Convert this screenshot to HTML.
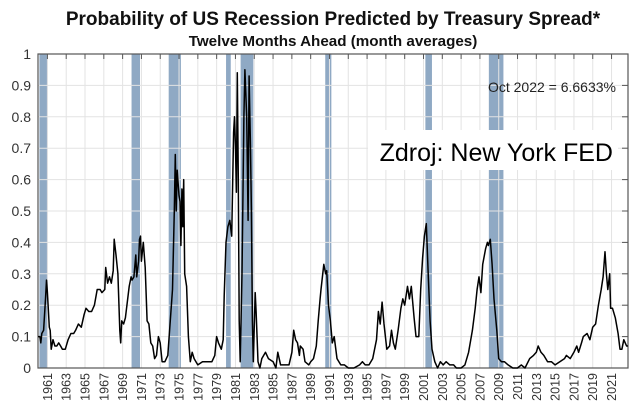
<!DOCTYPE html>
<html><head><meta charset="utf-8"><style>
body{margin:0;background:#fff;width:640px;height:411px;overflow:hidden;font-family:"Liberation Sans",Arial,sans-serif}
</style></head><body>
<svg id="chart" width="640" height="411" xmlns="http://www.w3.org/2000/svg" font-family="Liberation Sans, Arial, sans-serif">
<text x="333" y="25" text-anchor="middle" font-size="19" font-weight="bold" fill="#111">Probability of US Recession Predicted by Treasury Spread*</text>
<text x="333" y="46" text-anchor="middle" font-size="15.2" font-weight="bold" fill="#111">Twelve Months Ahead (month averages)</text>
<g id="bands"></g><g id="grid"></g><g id="axes"></g><g id="series"></g>
<text x="616" y="92" text-anchor="end" font-size="14" fill="#222">Oct 2022 = 6.6633%</text>
<rect x="368" y="130" width="250" height="40" fill="#fff"/>
<text x="613" y="161" text-anchor="end" font-size="25" fill="#000">Zdroj: New York FED</text>
</svg>
<script>
const years=[1960.0,1960.2,1960.3,1960.4,1960.6,1960.8,1960.9,1961.0,1961.2,1961.3,1961.4,1961.6,1961.8,1962.0,1962.2,1962.4,1962.6,1962.9,1963.2,1963.5,1963.8,1964.0,1964.3,1964.6,1964.9,1965.1,1965.4,1965.7,1966.0,1966.3,1966.6,1966.8,1967.1,1967.2,1967.4,1967.6,1967.8,1968.0,1968.1,1968.3,1968.5,1968.7,1968.8,1968.9,1969.1,1969.3,1969.5,1969.7,1969.9,1970.0,1970.2,1970.4,1970.5,1970.7,1970.8,1970.9,1971.0,1971.2,1971.4,1971.6,1971.8,1972.0,1972.2,1972.4,1972.6,1972.8,1973.0,1973.2,1973.5,1973.8,1974.0,1974.3,1974.5,1974.6,1974.7,1974.8,1975.0,1975.1,1975.2,1975.3,1975.4,1975.5,1975.6,1975.8,1976.0,1976.2,1976.4,1976.6,1977.0,1977.5,1978.0,1978.5,1978.8,1979.0,1979.2,1979.5,1979.7,1979.8,1980.0,1980.2,1980.4,1980.6,1980.8,1980.9,1981.0,1981.1,1981.2,1981.3,1981.4,1981.5,1981.7,1981.9,1982.0,1982.2,1982.35,1982.45,1982.6,1982.7,1982.8,1982.9,1983.1,1983.2,1983.4,1983.6,1983.8,1984.2,1984.5,1985.0,1985.3,1985.5,1985.8,1986.2,1986.7,1987.0,1987.2,1987.4,1987.6,1987.8,1987.9,1988.2,1988.4,1988.8,1989.0,1989.3,1989.6,1989.8,1990.0,1990.1,1990.4,1990.6,1990.7,1990.9,1991.1,1991.3,1991.5,1991.8,1992.2,1992.6,1993.0,1993.6,1994.2,1994.5,1994.8,1995.2,1995.6,1996.0,1996.2,1996.4,1996.6,1996.8,1997.1,1997.4,1997.6,1997.8,1998.0,1998.3,1998.6,1998.8,1999.0,1999.3,1999.5,1999.7,2000.0,2000.2,2000.5,2000.7,2000.9,2001.1,2001.3,2001.5,2001.7,2001.9,2002.2,2002.5,2002.8,2003.1,2003.4,2003.8,2004.2,2004.5,2005.0,2005.4,2005.8,2006.2,2006.5,2006.7,2006.9,2007.1,2007.3,2007.6,2007.8,2007.9,2008.1,2008.3,2008.5,2008.8,2009.0,2009.3,2009.6,2010.0,2010.5,2011.0,2011.4,2011.8,2012.3,2012.7,2013.0,2013.2,2013.5,2013.8,2014.2,2014.6,2015.0,2015.5,2016.0,2016.2,2016.6,2017.0,2017.3,2017.5,2017.8,2018.0,2018.4,2018.7,2019.0,2019.3,2019.6,2019.9,2020.1,2020.3,2020.45,2020.6,2020.8,2020.9,2021.1,2021.4,2021.7,2021.9,2022.1,2022.3,2022.6,2022.75];
const probs=[0.10,0.10,0.08,0.11,0.12,0.22,0.28,0.24,0.13,0.12,0.06,0.09,0.07,0.07,0.08,0.07,0.06,0.06,0.09,0.11,0.11,0.12,0.14,0.13,0.17,0.19,0.18,0.18,0.20,0.25,0.25,0.24,0.25,0.32,0.27,0.29,0.27,0.31,0.41,0.36,0.30,0.12,0.08,0.15,0.14,0.16,0.21,0.26,0.29,0.28,0.29,0.36,0.29,0.34,0.41,0.42,0.34,0.40,0.32,0.15,0.14,0.08,0.07,0.03,0.04,0.10,0.08,0.02,0.02,0.04,0.12,0.25,0.50,0.68,0.50,0.63,0.55,0.53,0.39,0.57,0.45,0.60,0.30,0.26,0.10,0.02,0.05,0.03,0.01,0.02,0.02,0.02,0.04,0.10,0.08,0.06,0.09,0.23,0.40,0.45,0.47,0.42,0.75,0.80,0.70,0.56,0.94,0.60,0.15,0.02,0.30,0.80,0.95,0.80,0.47,0.93,0.70,0.50,0.15,0.02,0.24,0.18,0.02,0.00,0.03,0.05,0.03,0.02,0.00,0.05,0.01,0.01,0.01,0.05,0.12,0.09,0.08,0.04,0.07,0.06,0.02,0.01,0.02,0.03,0.07,0.15,0.22,0.25,0.33,0.30,0.31,0.20,0.15,0.08,0.10,0.03,0.01,0.01,0.00,0.00,0.01,0.02,0.01,0.01,0.03,0.09,0.18,0.14,0.21,0.14,0.06,0.07,0.12,0.08,0.06,0.12,0.19,0.22,0.20,0.26,0.22,0.26,0.16,0.10,0.10,0.25,0.35,0.42,0.46,0.30,0.15,0.06,0.02,0.00,0.02,0.01,0.02,0.01,0.01,0.00,0.00,0.01,0.05,0.12,0.19,0.25,0.29,0.24,0.33,0.38,0.40,0.39,0.41,0.33,0.22,0.12,0.03,0.02,0.02,0.01,0.00,0.00,0.01,0.00,0.03,0.04,0.05,0.07,0.05,0.04,0.02,0.02,0.01,0.02,0.03,0.04,0.03,0.05,0.07,0.05,0.08,0.10,0.11,0.09,0.13,0.14,0.20,0.25,0.29,0.37,0.30,0.25,0.30,0.19,0.19,0.16,0.11,0.06,0.06,0.09,0.07,0.07];
const recStart=[1960.15,1969.95,1973.9,1980.0,1981.55,1990.55,2001.2,2007.95];
const recEnd=[1961.05,1970.85,1975.2,1980.5,1982.9,1991.2,2001.9,2009.5];
const yTicks=[0,0.1,0.2,0.3,0.4,0.5,0.6,0.7,0.8,0.9,1];
const yLabels=["0","0.1","0.2","0.3","0.4","0.5","0.6","0.7","0.8","0.9","1"];
const xTicks=[1961,1963,1965,1967,1969,1971,1973,1975,1977,1979,1981,1983,1985,1987,1989,1991,1993,1995,1997,1999,2001,2003,2005,2007,2009,2011,2013,2015,2017,2019,2021];

const L=38,R=628,T=54,B=368,X0=1960,X1=2022.75;
const NS="http://www.w3.org/2000/svg";
function xs(v){return L+(v-X0)/(X1-X0)*(R-L);}
function ys(v){return B-v*(B-T);}
function mk(tag,attrs,parent){const e=document.createElementNS(NS,tag);for(const k in attrs)e.setAttribute(k,attrs[k]);document.getElementById(parent).appendChild(e);return e;}

recStart.forEach((s,i)=>{
  const r=mk('rect',{x:xs(s),y:T,width:xs(recEnd[i])-xs(s),height:B-T,fill:'#8fa9c4'},'bands');
  
  
});
yTicks.forEach((v,i)=>{
  const g=mk('line',{x1:L,x2:R,y1:ys(v),y2:ys(v),stroke:'#e3e3e3','stroke-width':1},'grid');
  
  
  const tk=mk('line',{x1:R-6,x2:R,y1:ys(v),y2:ys(v),stroke:'#555','stroke-width':1},'axes');
  
  
  const t=mk('text',{x:31,y:ys(v)+5,'text-anchor':'end','font-size':14,fill:'#333'},'axes');
  t.textContent=yLabels[i];
  
  
});
xTicks.forEach(v=>{
  const g=mk('line',{x1:xs(v),x2:xs(v),y1:T,y2:B,stroke:'#e3e3e3','stroke-width':1},'grid');
  
  
  const tk=mk('line',{x1:xs(v),x2:xs(v),y1:T,y2:T+5,stroke:'#555','stroke-width':1},'axes');
  
  
  const t=mk('text',{x:0,y:0,'text-anchor':'end','font-size':12.5,fill:'#333',transform:`translate(${xs(v)+4.5},${B+5}) rotate(-90)`},'axes');
  t.textContent=String(v);
  
  
});
const frame=mk('rect',{x:L,y:T,width:R-L,height:B-T,fill:'none',stroke:'#555','stroke-width':1.2},'axes');


const d=years.map((y,i)=>(i?'L':'M')+xs(y).toFixed(1)+','+ys(probs[i]).toFixed(1)).join('');
const p=mk('path',{d:d,fill:'none',stroke:'#000','stroke-width':1.5,'stroke-linejoin':'round'},'series');


</script>
</body></html>
